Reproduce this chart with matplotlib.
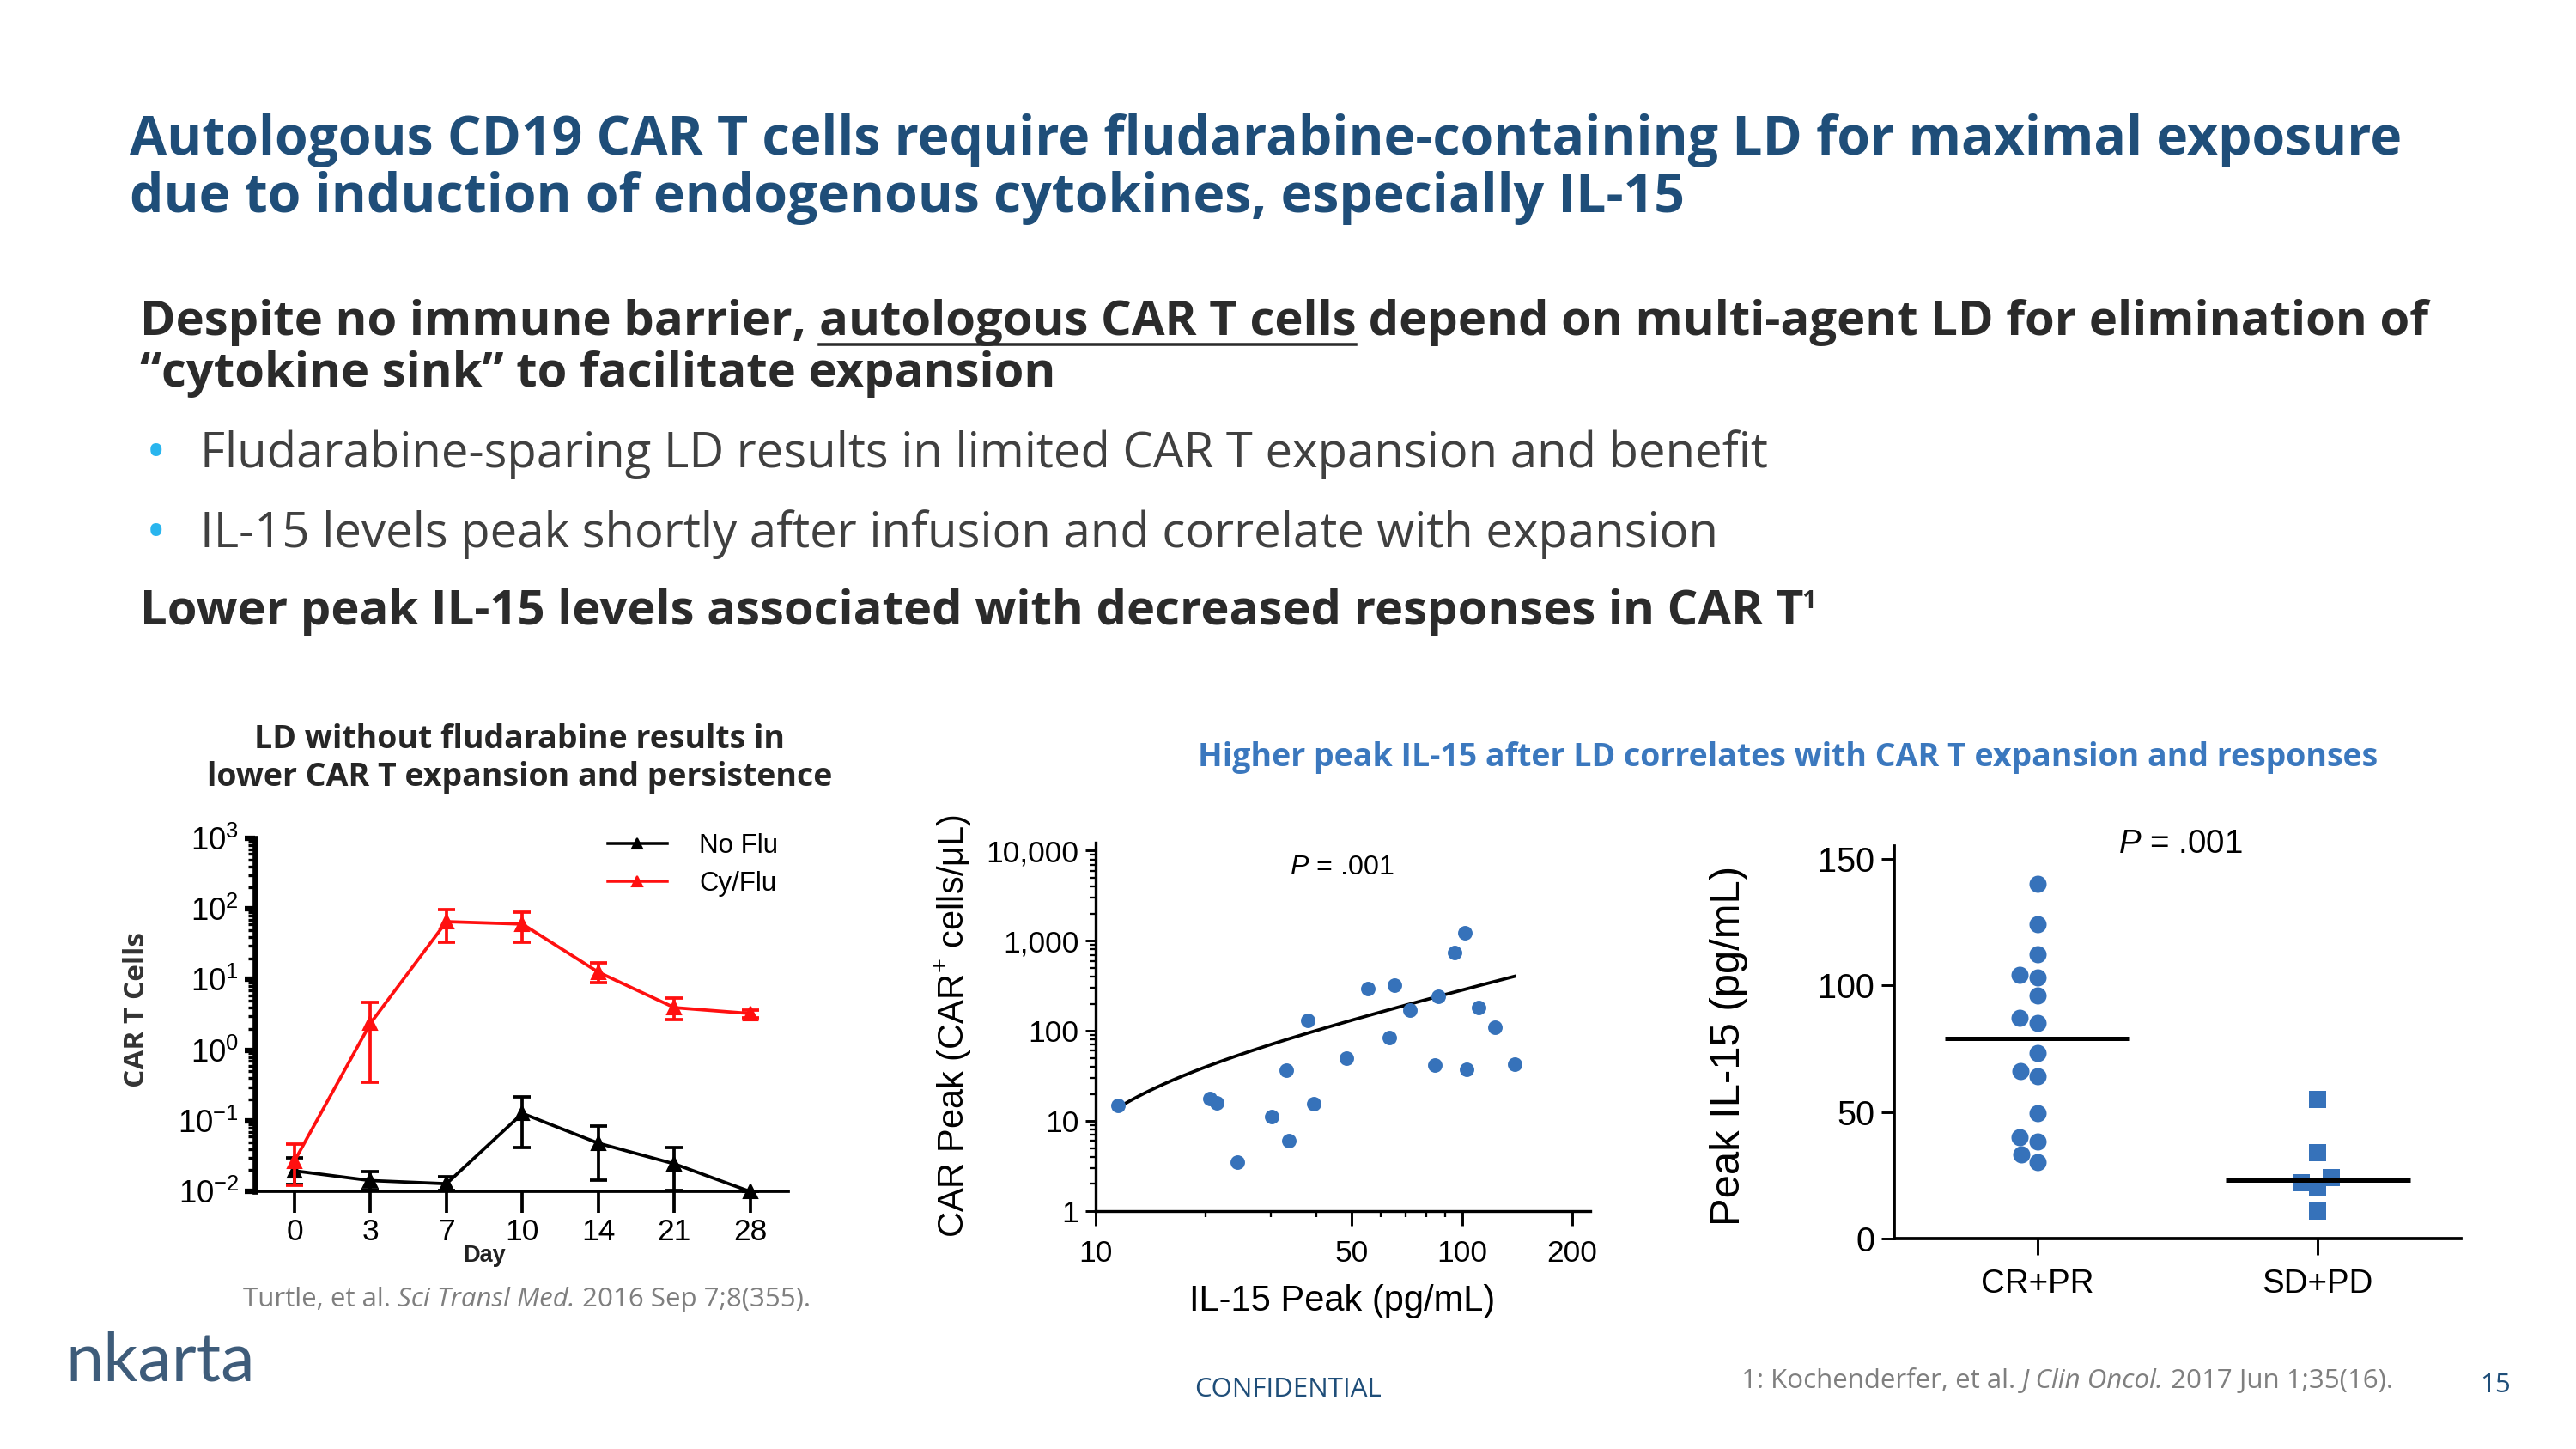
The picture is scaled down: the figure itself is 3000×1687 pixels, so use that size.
import numpy as np
import pandas as pd
import matplotlib
matplotlib.use("Agg")
import matplotlib.pyplot as plt
import matplotlib.ticker as mticker
from matplotlib.lines import Line2D
import seaborn as sns

# ---- data ----
days = ["0", "3", "7", "10", "14", "21", "28"]
cyflu_mean = [0.027, 2.4, 66, 61, 12.7, 4.0, 3.3]
cyflu_hi = [0.047, 4.8, 99, 91, 17, 5.4, 3.65]
cyflu_lo = [0.012, 0.35, 34, 34, 9, 2.7, 2.9]
noflu_mean = [0.0195, 0.0142, 0.0128, 0.127, 0.048, 0.0245, 0.0099]
noflu_hi = [0.030, 0.019, 0.016, 0.22, 0.085, 0.042, 0.0099]
noflu_lo = [0.0125, 0.0105, 0.0102, 0.042, 0.0142, 0.0102, 0.0099]

il15_peak = [11.5, 20.5, 21.4, 24.4, 30.3, 33.1, 33.7, 37.9, 39.4, 48.4, 55.2,
             63.4, 65.6, 72.1, 84.3, 86, 95.7, 102, 103, 111, 123, 139]
car_peak = [14.9, 17.8, 15.9, 3.5, 11.2, 37, 6.0, 132, 15.5, 50, 294,
            85, 321, 170, 42, 243, 747, 1228, 37.4, 182, 110, 43]

groups = ["CR+PR", "SD+PD"]
cr_pr_il15 = [140.1, 124.0, 112.1, 104.0, 103.1, 96.1, 87.0, 85.1, 73.1, 66.1,
              64.0, 49.4, 38.3, 40.0, 33.1, 30.1]
sd_pd_il15 = [54.8, 34.0, 24.0, 22.1, 20.1, 11.0]

title1 = "Autologous CD19 CAR T cells require fludarabine-containing LD for maximal exposure"
title2 = "due to induction of endogenous cytokines, especially IL-15"
bullets = ["Fludarabine-sparing LD results in limited CAR T expansion and benefit",
           "IL-15 levels peak shortly after infusion and correlate with expansion"]

# ---- styles ----
W, H = 3000, 1687
TITLE_BLUE = "#1F4E79"
DARK = "#2B2B2B"
GRAY_TXT = "#404040"
CYAN = "#29B5EE"
DOT_BLUE = "#3672BA"
HEAD_BLUE = "#3B78BE"
CHART_FONT = ["Liberation Sans", "DejaVu Sans"]
SANS = ["Open Sans", "DejaVu Sans"]

plt.rcParams["mathtext.fontset"] = "custom"
plt.rcParams["mathtext.rm"] = "Liberation Sans"
plt.rcParams["mathtext.it"] = "Liberation Sans:italic"
plt.rcParams["mathtext.bf"] = "Liberation Sans:bold"
plt.rcParams["font.family"] = CHART_FONT

fig = plt.figure(figsize=(W / 150, H / 150), dpi=150)
renderer = fig.canvas.get_renderer()


def fx(px):
    return px / W


def fy(py):
    return 1 - py / H


def text_width(s, **kw):
    t1 = fig.text(0, 0, s + ".", **kw)
    w1 = t1.get_window_extent(renderer).width
    t1.remove()
    t2 = fig.text(0, 0, ".", **kw)
    w2 = t2.get_window_extent(renderer).width
    t2.remove()
    return w1 - w2


def draw_runs(x, y, parts, **base):
    spans = []
    for s, extra in parts:
        kw = dict(base)
        kw.update(extra)
        fig.text(fx(x), fy(y), s, ha="left", va="baseline", **kw)
        w = text_width(s, **kw)
        spans.append((x, x + w))
        x += w
    return spans


# ---- slide text ----
for txt, base in [(title1, 180), (title2, 247)]:
    fig.text(fx(151), fy(base), txt, fontsize=30, weight="bold", color=TITLE_BLUE,
             family=SANS, ha="left", va="baseline")

head = dict(fontsize=27, weight="bold", color=DARK, family=SANS)
spans = draw_runs(163, 390, [("Despite no immune barrier, ", {}),
                             ("autologous CAR T cells", {}),
                             (" depend on multi-agent LD for elimination of", {})], **head)
ux0, ux1 = spans[1]
fig.add_artist(Line2D([fx(ux0), fx(ux1)], [fy(401), fy(401)], color=DARK, lw=1.7))
fig.text(fx(163), fy(450), "\u201ccytokine sink\u201d to facilitate expansion",
         ha="left", va="baseline", **head)

for txt, base in zip(bullets, [544, 637]):
    fig.text(fx(170), fy(base - 14), "\u2022", fontsize=30, color=CYAN, family=SANS,
             ha="left", va="center")
    fig.text(fx(233), fy(base), txt, fontsize=27, color=GRAY_TXT, family=SANS,
             ha="left", va="baseline")

spans = draw_runs(163, 727, [("Lower peak IL-15 levels associated with decreased responses in CAR T", {})],
                  **head)
fig.text(fx(spans[0][1] + 1), fy(708), "1", fontsize=14, weight="bold", color=DARK,
         family=SANS, ha="left", va="baseline")

# ---- left chart: CAR T cells over time ----
fig.text(fx(605), fy(861), "LD without fludarabine results in", fontsize=18,
         weight="bold", color="#262626", family=SANS, ha="center", va="center")
fig.text(fx(605), fy(905), "lower CAR T expansion and persistence", fontsize=18,
         weight="bold", color="#262626", family=SANS, ha="center", va="center")

ax1 = fig.add_axes([fx(297), fy(1387), fx(918) - fx(297), fy(976) - fy(1387)])
xpos = np.arange(len(days))
nm, nh, nl = map(np.array, (noflu_mean, noflu_hi, noflu_lo))
cm, ch, cl = map(np.array, (cyflu_mean, cyflu_hi, cyflu_lo))
ax1.errorbar(xpos, nm, yerr=[nm - nl, nh - nm], fmt="-^", color="black", lw=1.8,
             ms=7.5, elinewidth=1.8, capsize=5, capthick=1.8, clip_on=False, zorder=3)
ax1.errorbar(xpos, cm, yerr=[cm - cl, ch - cm], fmt="-^", color="#FF1010", lw=1.8,
             ms=7.5, elinewidth=1.8, capsize=5, capthick=1.8, clip_on=False, zorder=4)
ax1.set_yscale("log")
ax1.set_ylim(1e-2, 1e3)
ax1.set_xlim(-0.52, 6.5)
ax1.set_xticks(xpos)
ax1.set_xticklabels(days)
ax1.yaxis.set_major_locator(mticker.LogLocator(base=10, numticks=10))
ax1.yaxis.set_major_formatter(mticker.LogFormatterMathtext())
ax1.yaxis.set_minor_locator(mticker.LogLocator(base=10, subs=np.arange(2, 10), numticks=20))
ax1.yaxis.set_minor_formatter(mticker.NullFormatter())
for s in ["top", "right"]:
    ax1.spines[s].set_visible(False)
ax1.spines["left"].set_linewidth(3.2)
ax1.spines["bottom"].set_linewidth(1.8)
ax1.tick_params(axis="y", which="major", length=6, width=3, labelsize=17.5, pad=3)
ax1.tick_params(axis="y", which="minor", length=4, width=1.6)
ax1.tick_params(axis="x", which="major", length=12, width=1.8, labelsize=17, pad=3)
ax1.patch.set_alpha(0)
handles = [Line2D([], [], color="black", marker="^", ms=6, lw=1.7),
           Line2D([], [], color="#FF1010", marker="^", ms=6, lw=1.7)]
ax1.legend(handles, ["No Flu", "Cy/Flu"], loc="upper left",
           bbox_to_anchor=(fx(708), fy(970)), bbox_transform=fig.transFigure,
           frameon=False, fontsize=15, handlelength=2.2, handletextpad=1.2,
           labelspacing=0.45, borderpad=0, borderaxespad=0)
fig.text(fx(159), fy(1176), "CAR T Cells", rotation=90, fontsize=16, weight="bold",
         color="#333333", family=SANS, ha="center", va="center")
fig.text(fx(564), fy(1462), "Day", fontsize=13, weight="bold", color="#222222",
         ha="center", va="center")

draw_runs(283, 1521, [("Turtle, et al. ", {}), ("Sci Transl Med.", {"style": "italic"}),
                      (" 2016 Sep 7;8(355).", {})],
          fontsize=15, color="#7F7F7F", family=SANS)

# ---- middle chart: CAR peak vs IL-15 peak ----
fig.text(fx(2082), fy(882),
         "Higher peak IL-15 after LD correlates with CAR T expansion and responses",
         fontsize=18, weight="bold", color=HEAD_BLUE, family=SANS, ha="center", va="center")

ax2 = fig.add_axes([fx(1276), fy(1410), fx(1852) - fx(1276), fy(981) - fy(1410)])
ax2.scatter(il15_peak, car_peak, s=66, color=DOT_BLUE, linewidths=0, zorder=3)
slope, intercept = np.polyfit(il15_peak, car_peak, 1)
fit_x = np.geomspace(min(il15_peak), max(il15_peak), 200)
ax2.plot(fit_x, intercept + slope * fit_x, color="black", lw=1.8, zorder=2)
ax2.set_xscale("log")
ax2.set_yscale("log")
ax2.set_xlim(10, 224)
ax2.set_ylim(1, 12300)
ax2.set_xticks([10, 50, 100, 200])
ax2.set_xticklabels(["10", "50", "100", "200"])
ax2.xaxis.set_minor_locator(mticker.FixedLocator([20, 30, 40, 60, 70, 80, 90]))
ax2.xaxis.set_minor_formatter(mticker.NullFormatter())
ax2.set_yticks([1, 10, 100, 1000, 10000])
ax2.set_yticklabels(["1", "10", "100", "1,000", "10,000"])
ax2.yaxis.set_minor_locator(mticker.LogLocator(base=10, subs=np.arange(2, 10), numticks=20))
ax2.yaxis.set_minor_formatter(mticker.NullFormatter())
for s in ["top", "right"]:
    ax2.spines[s].set_visible(False)
for s in ["left", "bottom"]:
    ax2.spines[s].set_linewidth(1.6)
ax2.tick_params(which="major", length=6, width=1.4, labelsize=17)
ax2.tick_params(axis="x", which="major", length=8, pad=8)
ax2.tick_params(which="minor", length=3.5, width=1.1)
ax2.patch.set_alpha(0)
ax2.text(0.497, 0.933, "$P$ = .001", transform=ax2.transAxes, fontsize=15.5,
         ha="center", va="center")
fig.text(fx(1110), fy(1195), "CAR Peak (CAR$^{+}$ cells/\u03bcL)", rotation=90,
         fontsize=20, ha="center", va="center")
fig.text(fx(1563), fy(1515), "IL-15 Peak (pg/mL)", fontsize=20, ha="center", va="center")

# ---- right chart: peak IL-15 by response ----
ax3 = fig.add_axes([fx(2206), fy(1442), fx(2866) - fx(2206), fy(985) - fy(1442)])
df_cr = pd.DataFrame({"group": "CR+PR", "il15": cr_pr_il15})
df_sd = pd.DataFrame({"group": "SD+PD", "il15": sd_pd_il15})
sns.swarmplot(data=df_cr, x="group", y="il15", order=groups, color=DOT_BLUE,
              size=9.6, marker="o", linewidth=0, ax=ax3, zorder=3)
sns.swarmplot(data=df_sd, x="group", y="il15", order=groups, color=DOT_BLUE,
              size=9.2, marker="s", linewidth=0, ax=ax3, zorder=3)
for i, vals in enumerate([cr_pr_il15, sd_pd_il15]):
    ax3.hlines(np.median(vals), i - 0.33, i + 0.33, color="black", lw=2.4, zorder=4)
ax3.set_xlim(-0.51, 1.51)
ax3.set_ylim(0, 155)
ax3.set_yticks([0, 50, 100, 150])
ax3.set_xticks([0, 1])
ax3.set_xticklabels(groups)
ax3.set_xlabel("")
ax3.set_ylabel("")
for s in ["top", "right"]:
    ax3.spines[s].set_visible(False)
for s in ["left", "bottom"]:
    ax3.spines[s].set_linewidth(1.8)
ax3.tick_params(axis="y", length=7, width=1.4, labelsize=19, pad=4)
ax3.tick_params(axis="x", length=9, width=1.4, labelsize=18.5, pad=8)
ax3.patch.set_alpha(0)
ax3.text(0.505, 1.004, "$P$ = .001", transform=ax3.transAxes, fontsize=18.5,
         ha="center", va="center")
fig.text(fx(2014), fy(1217), "Peak IL-15 (pg/mL)", rotation=90, fontsize=23.5,
         ha="center", va="center")

# ---- footer ----
fig.text(fx(76), fy(1585), "nkarta", fontsize=38, color="#3E5C7A",
         family=["Lato", "Open Sans", "DejaVu Sans"], ha="left", va="center")
fig.text(fx(1500), fy(1618), "CONFIDENTIAL", fontsize=15, color=TITLE_BLUE,
         family=SANS, ha="center", va="center")
draw_runs(2028, 1616, [("1: Kochenderfer, et al. ", {}), ("J Clin Oncol.", {"style": "italic"}),
                       (" 2017 Jun 1;35(16).", {})],
          fontsize=15, color="#7F7F7F", family=SANS)
fig.text(fx(2906), fy(1613), "15", fontsize=15, color=TITLE_BLUE, family=SANS,
         ha="center", va="center")

fig.savefig("out.png", dpi=150, facecolor="white")
